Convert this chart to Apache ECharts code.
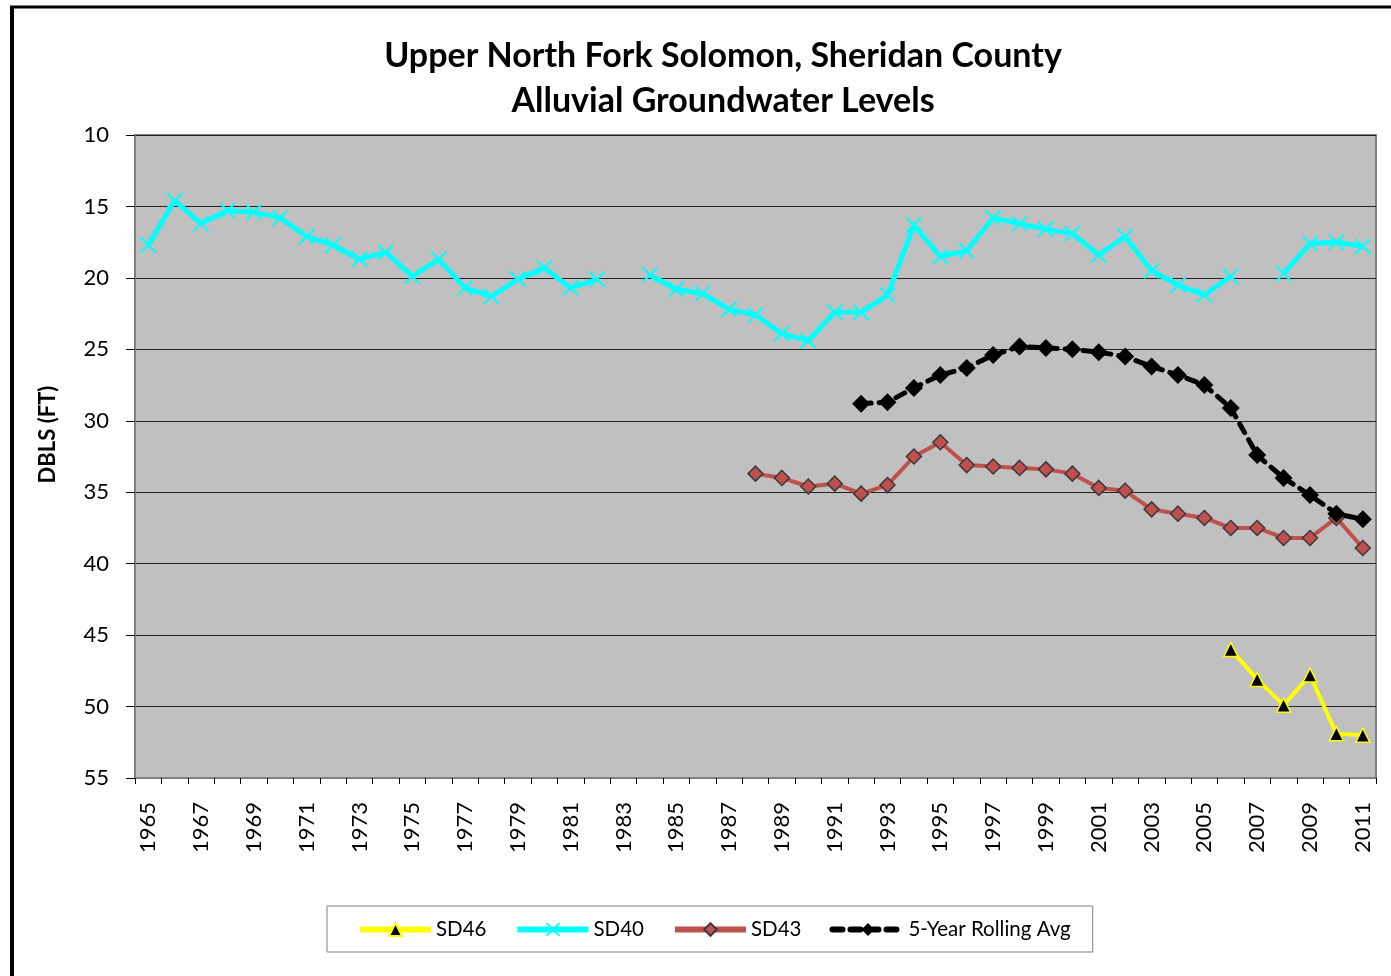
<!DOCTYPE html>
<html lang="en">
<head>
<meta charset="UTF-8">
<title>Upper North Fork Solomon</title>
<script src="https://cdn.jsdelivr.net/npm/echarts@6/dist/echarts.min.js"></script>
<style>
  body { margin: 0; background: #fff; }
  #main { width: 1391px; height: 976px; }
</style>
</head>
<body>
<div id="main"></div>
<script>
var years = [];
for (var y = 1965; y <= 2011; y++) years.push(String(y));

// SD40, 1965-2011 (gaps in 1983 and 2007)
var sd40 = [17.7, 14.6, 16.2, 15.3, 15.4, 15.8, 17.1, 17.7, 18.7, 18.2,
            19.9, 18.7, 20.7, 21.3, 20.1, 19.3, 20.7, 20.1, null, 19.8,
            20.8, 21.1, 22.2, 22.6, 23.9, 24.4, 22.4, 22.4, 21.2, 16.3,
            18.5, 18.1, 15.8, 16.2, 16.6, 16.9, 18.4, 17.1, 19.5, 20.5,
            21.2, 19.9, null, 19.7, 17.6, 17.5, 17.8];

// SD43, 1988-2011
var sd43 = [33.7, 34.0, 34.6, 34.4, 35.1, 34.5, 32.5, 31.5, 33.1, 33.2,
            33.3, 33.4, 33.7, 34.7, 34.9, 36.2, 36.5, 36.8, 37.5, 37.5,
            38.2, 38.2, 36.8, 38.9];

// 5-year rolling average, 1992-2011
var rollAvg = [28.8, 28.7, 27.7, 26.8, 26.3, 25.4, 24.8, 24.9, 25.0, 25.2,
               25.5, 26.2, 26.8, 27.5, 29.1, 32.4, 34.0, 35.2, 36.5, 36.9];

// SD46, 2006-2011
var sd46 = [46.0, 48.1, 49.9, 47.8, 51.9, 52.0];

function pad(arr, startYear) {
  var out = [];
  for (var i = 0; i < years.length; i++) {
    var k = +years[i] - startYear;
    out.push(k >= 0 && k < arr.length && arr[k] != null ? arr[k] : '-');
  }
  return out;
}

var font = 'Lato, "Open Sans", sans-serif';
var chart = echarts.init(document.getElementById('main'));

var option = {
  backgroundColor: '#fff',
  textStyle: { fontFamily: font },
  title: {
    text: 'Upper North Fork Solomon, Sheridan County\nAlluvial Groundwater Levels',
    left: 718, top: 29, textAlign: 'center',
    textStyle: { fontSize: 34, fontWeight: 'bold', color: '#000', lineHeight: 45, fontFamily: font }
  },
  graphic: [
    { type: 'line', shape: { x1: 12, y1: 7, x2: 12, y2: 976 }, style: { stroke: '#000', lineWidth: 4 } },
    { type: 'line', shape: { x1: 10, y1: 7, x2: 1391, y2: 7 }, style: { stroke: '#000', lineWidth: 3 } }
  ],
  grid: {
    left: 135, right: 15, top: 135, bottom: 198,
    show: true, backgroundColor: '#c0c0c0', borderColor: '#808080', borderWidth: 2
  },
  legend: {
    left: 327, top: 906,
    padding: [13, 22, 12, 30],
    itemGap: 28, itemWidth: 71, itemHeight: 16,
    backgroundColor: '#fff', borderColor: '#808080', borderWidth: 1,
    lineStyle: { width: 6 },
    textStyle: { fontSize: 20.5, color: '#000', fontFamily: font },
    data: ['SD46', 'SD40', 'SD43', '5-Year Rolling Avg']
  },
  xAxis: {
    type: 'category',
    data: years,
    boundaryGap: true,
    axisLine: { lineStyle: { color: '#808080', width: 2 } },
    axisTick: { show: true, interval: 0, length: 6, lineStyle: { color: '#000' } },
    axisLabel: { rotate: 90, interval: 1, fontSize: 22, color: '#000', margin: 24, fontFamily: font },
    splitLine: { show: false }
  },
  yAxis: {
    type: 'value',
    inverse: true,
    min: 10, max: 55, interval: 5,
    name: 'DBLS (FT)',
    nameLocation: 'middle',
    nameGap: 76,
    nameRotate: 90,
    nameTextStyle: { fontSize: 22, fontWeight: 'bold', color: '#000', fontFamily: font, padding: [0, 0, 0, 44] },
    axisLine: { show: true, lineStyle: { color: '#808080', width: 2 } },
    axisTick: { show: true, length: 9, lineStyle: { color: '#000' } },
    axisLabel: { fontSize: 22, color: '#000', margin: 26, fontFamily: font },
    splitLine: { lineStyle: { color: '#222', width: 1.2 } }
  },
  series: [
    {
      name: 'SD46', type: 'line', data: pad(sd46, 2006),
      showAllSymbol: true,
      symbol: 'triangle', symbolSize: 14,
      lineStyle: { color: '#ffff00', width: 4 },
      itemStyle: { color: '#000', borderColor: '#ffff00', borderWidth: 1.5 },
      z: 3
    },
    {
      name: 'SD40', type: 'line', data: pad(sd40, 1965), connectNulls: false,
      showAllSymbol: true,
      symbol: 'path://M0,0L10,10M10,0L0,10', symbolSize: 15,
      lineStyle: { color: '#00ffff', width: 5 },
      itemStyle: { color: '#00ffff', borderColor: '#00ffff', borderWidth: 2 },
      z: 2
    },
    {
      name: 'SD43', type: 'line', data: pad(sd43, 1988),
      showAllSymbol: true,
      symbol: 'diamond', symbolSize: 15,
      lineStyle: { color: '#c0504d', width: 4 },
      itemStyle: { color: '#c0504d', borderColor: '#3a3a3a', borderWidth: 1.5 },
      z: 3
    },
    {
      name: '5-Year Rolling Avg', type: 'line', data: pad(rollAvg, 1992),
      showAllSymbol: true,
      symbol: 'diamond', symbolSize: 18,
      lineStyle: { color: '#000', width: 5, type: [10, 8], cap: 'round' },
      itemStyle: { color: '#000' },
      z: 4
    }
  ]
};

chart.setOption(option);
</script>
</body>
</html>
